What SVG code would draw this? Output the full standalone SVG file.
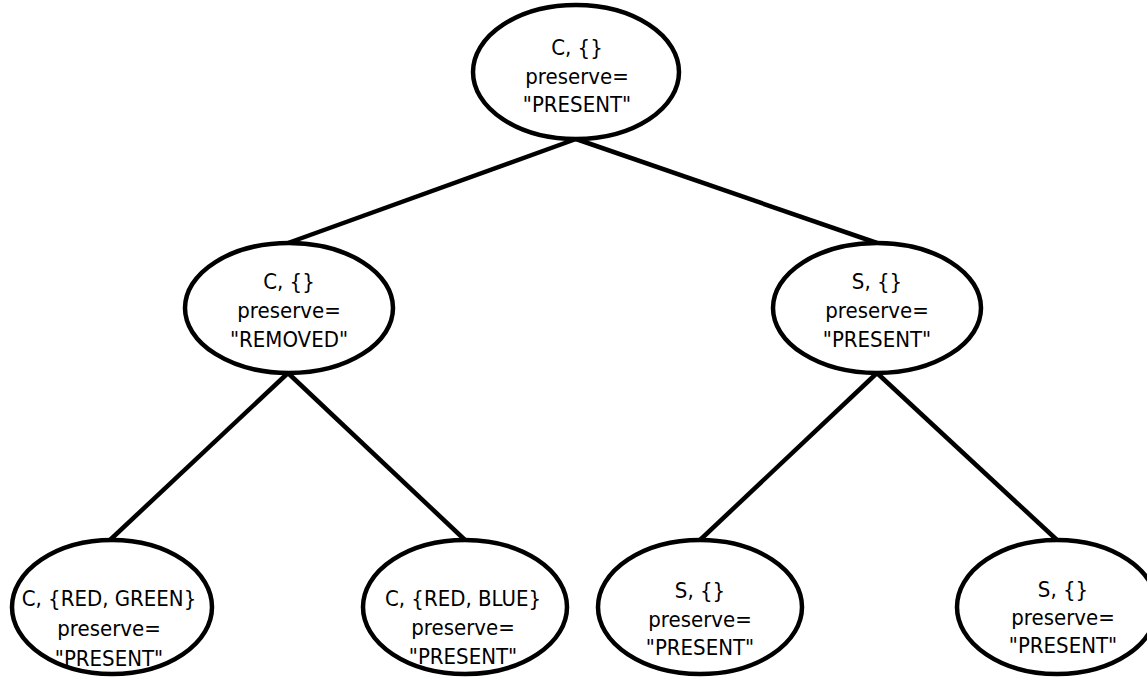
<svg xmlns="http://www.w3.org/2000/svg" width="1147" height="678" viewBox="0 0 1147 678">
<style>
.node ellipse{fill:#fff;stroke:#000;stroke-width:4.5}
.edges line{stroke:#000;stroke-width:4.5}
text{font-family:"DejaVu Sans Condensed","DejaVu Sans",sans-serif;font-size:22px;fill:#000;text-anchor:middle}
</style>
<rect width="1147" height="678" fill="#fff"/>
<g id="connectors" class="edges">
<line x1="576" y1="139" x2="288" y2="243"/>
<line x1="576" y1="139" x2="877" y2="243"/>
<line x1="288" y1="373" x2="110" y2="540"/>
<line x1="288" y1="373" x2="465" y2="540"/>
<line x1="877" y1="373" x2="700" y2="540"/>
<line x1="877" y1="373" x2="1057" y2="540"/>
</g>
<g id="n_root" class="node">
<ellipse cx="576" cy="72" rx="103" ry="67"/>
<text x="577" y="55">C, {}</text>
<text x="577" y="84">preserve=</text>
<text x="577" y="112">"PRESENT"</text>
</g>
<g id="n_left" class="node">
<ellipse cx="289" cy="308" rx="104" ry="65"/>
<text x="289" y="289">C, {}</text>
<text x="289" y="318">preserve=</text>
<text x="289" y="347">"REMOVED"</text>
</g>
<g id="n_right" class="node">
<ellipse cx="877" cy="308" rx="104" ry="65"/>
<text x="877" y="289">S, {}</text>
<text x="877" y="318">preserve=</text>
<text x="877" y="347">"PRESENT"</text>
</g>
<g id="n_ll" class="node">
<ellipse cx="112" cy="607" rx="100" ry="67"/>
<text x="109" y="606">C, {RED, GREEN}</text>
<text x="109" y="636">preserve=</text>
<text x="109" y="666">"PRESENT"</text>
</g>
<g id="n_lr" class="node">
<ellipse cx="465" cy="607" rx="102" ry="67"/>
<text x="463" y="606">C, {RED, BLUE}</text>
<text x="463" y="635">preserve=</text>
<text x="463" y="664">"PRESENT"</text>
</g>
<g id="n_rl" class="node">
<ellipse cx="700" cy="607" rx="102" ry="67"/>
<text x="700" y="598">S, {}</text>
<text x="700" y="627">preserve=</text>
<text x="700" y="655">"PRESENT"</text>
</g>
<g id="n_rr" class="node">
<ellipse cx="1057" cy="607" rx="100" ry="67"/>
<text x="1063" y="597">S, {}</text>
<text x="1063" y="625">preserve=</text>
<text x="1063" y="653">"PRESENT"</text>
</g>
</svg>
